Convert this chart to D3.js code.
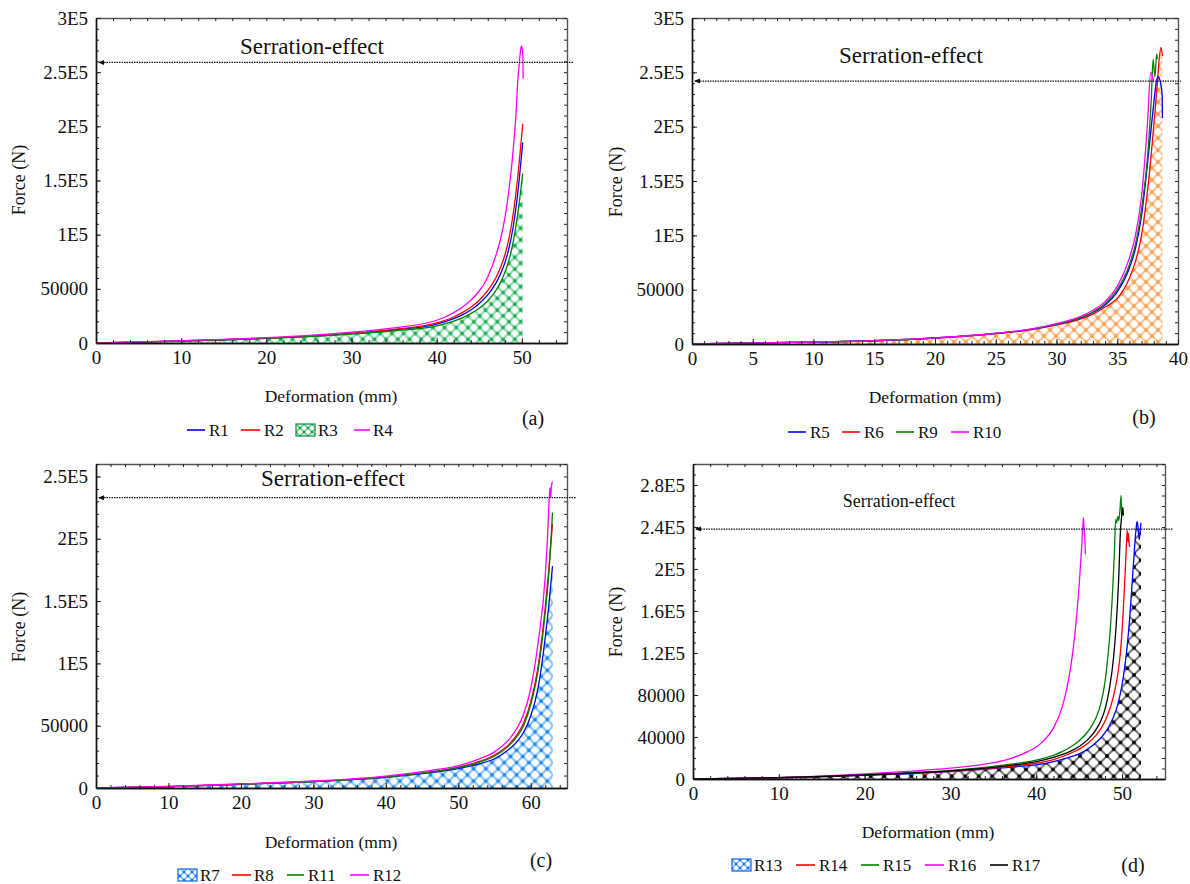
<!DOCTYPE html>
<html><head><meta charset="utf-8">
<script src="https://cdn.jsdelivr.net/npm/d3@7"></script>
<style>
body{margin:0;background:#fff}
svg text{font-family:"Liberation Serif","Tinos","Times New Roman",serif;}
</style>
</head><body>
<svg id="fig" width="1190" height="884"></svg>
<script>
// ================= DATA =================
// Tick values / labels
const xTicksA = [0,10,20,30,40,50];
const xTicksB = [0,5,10,15,20,25,30,35,40];
const xTicksC = [0,10,20,30,40,50,60];
const xTicksD = [0,10,20,30,40,50];
const yTicksAB = [0,50000,100000,150000,200000,250000,300000];
const yLabelsAB = ["0","50000","1E5","1.5E5","2E5","2.5E5","3E5"];
const yTicksC = [0,50000,100000,150000,200000,250000];
const yLabelsC = ["0","50000","1E5","1.5E5","2E5","2.5E5"];
const yTicksD = [0,40000,80000,120000,160000,200000,240000,280000];
const yLabelsD = ["0","40000","80000","1.2E5","1.6E5","2E5","2.4E5","2.8E5"];

// Serration-effect reference levels (N)
const serrationLevels = {a:259000, b:242000, c:233000, d:238000};

// Panel (a): deformation (mm) and force (N)
const defA = [0,5,10,15,20,25,30,35,40,41,42,43,44,45,46,47,47.5,48,48.5,49,49.5,50.1];
const forceR1 = [0,900,1900,3000,4400,6200,8700,12000,17500,19800,22500,26000,30500,36500,44500,56000,64000,74000,88000,108000,137000,185000];
const forceR2 = [0,900,2000,3100,4500,6400,9000,12500,18500,21000,24000,28000,33000,39500,48500,61000,70000,81000,97000,120000,152000,202000];
const forceR3 = [0,850,1800,2900,4200,6000,8300,11300,15800,17800,20200,23200,27200,32000,39000,49000,56000,65000,77000,94000,118000,156600];
const defR4 = [0,5,10,15,20,25,30,35,40,41,42,43,44,45,46,47,47.5,48,48.5,49,49.3,49.55,49.7,49.85,49.95,50.1,50.15];
const forceR4 = [0,950,2100,3300,4900,7000,10000,14000,21000,24000,28000,33000,39500,48000,61000,82000,96000,115000,142000,180000,210000,245000,258000,270000,274000,268000,244000];

// Panel (b)
const defB = [0,5,10,15,20,25,28,30,32,33,34,35,36,36.5,37,37.5];
const defR5 = defB.concat([38.0,38.2,38.35,38.6,38.7,38.72]);
const forceR5 = [0,900,1800,3000,5500,9700,13600,18000,24000,29000,36000,48000,70000,88000,118000,167000, 221000,240000,246000,238000,228000,208000];
const defR6 = defB.concat([38.0,38.3,38.45,38.6,38.72]);
const forceR6 = [0,900,1800,3000,5400,9500,13300,17500,23000,27500,34000,42000,60600,76000,100000,142000, 200000,240000,262000,273000,265000];
const defR9 = defB.concat([37.8,37.95,38.1,38.25,38.3]);
const forceR9 = [0,900,1800,3000,5500,9700,13700,18200,24500,29500,37000,50000,73000,92000,124000,173000, 225000,262000,246000,267000,262000];
const defR10 = defB.concat([37.75,37.85,38.0]);
const forceR10 = [0,950,1850,3100,5600,9900,14000,18800,25500,31000,39000,53000,79000,100000,136000,205000, 250000,248000,241000];

// Panel (c)
const defC = [0,10,20,30,40,45,50,53,55,57,58,59,60,61,62,62.5,63];
const forceR7  = [0,1100,3000,5200,8600,11500,15500,19500,23500,31000,36500,44500,58000,80000,121000,147000,178000];
const forceR8  = [0,1100,3100,5300,9000,12200,16800,21500,26500,35000,42000,52000,69000,97000,145000,176000,212000];
const forceR11 = [0,1100,3000,5200,8800,12000,16300,21000,25500,34000,40500,50000,67000,94000,141000,173000,221000];
const defR12 = [0,10,20,30,40,45,50,53,55,57,58,59,60,61,62,62.3,62.55,62.65,62.75,62.85,63.0];
const forceR12 = [0,1200,3300,5600,9600,13200,18000,23500,29000,39000,47000,59000,80000,116000,170000,200000,232000,241000,233000,242000,246000];

// Panel (d)
const defR13 = [0,5,10,15,20,25,30,35,38,40,42,44,45,46,47,48,48.5,49,49.5,50,50.3,50.6,50.9,51.2,51.45,51.65,51.75,51.85,52.0,52.1,52.2];
const forceR13 = [0,570,1200,2200,3500,5000,7000,9800,12000,13400,16500,21000,24000,28500,35000,44000,50500,59000,71000,90000,106000,127000,155000,190000,220000,240000,245000,240000,228000,236000,244000];
const defR14 = [0,5,10,15,20,25,30,35,38,40,42,44,45,46,47,47.5,48,48.5,49,49.5,49.8,50.1,50.35,50.5,50.6,50.68,50.75,50.82,50.9];
const forceR14 = [0,580,1200,2300,3600,5300,7300,10300,13000,15000,18500,24500,28500,34000,42000,47500,55000,65000,79000,100000,120000,155000,195000,222000,237000,226000,234000,224000,221000];
const defR15 = [0,5,10,15,20,25,30,35,38,40,42,43,44,45,46,46.5,47,47.5,48,48.3,48.6,48.9,49.1,49.25,49.35,49.5,49.6,49.75,49.88,49.95];
const forceR15 = [0,600,1300,2500,4100,6000,8300,12000,15200,18000,22500,26000,30500,36500,45000,51000,59000,71000,92000,113000,140000,180000,215000,247000,244000,250000,246000,256000,270000,252000];
const defR16 = [0,5,10,15,20,25,30,33,35,37,38,39,40,41,42,43,43.5,44,44.5,45,45.3,45.5,45.6,45.65,45.72];
const forceR16 = [0,600,1400,2800,4800,7200,10300,13000,15500,19500,22500,26000,30500,37500,48500,68000,84000,106000,138000,185000,222000,249000,234000,231000,214000];
const defR17 = [0,5,10,15,20,25,30,35,38,40,42,44,45,46,47,47.5,48,48.5,49,49.3,49.6,49.8,49.95,50.1,50.15];
const forceR17 = [0,600,1250,2400,3800,5600,7800,11000,14000,16500,20500,26500,31000,37500,47500,55000,66000,85000,115000,145000,190000,235000,250000,259000,251000];

// ================= STYLE / LAYOUT =================
const FONT = '"Liberation Serif","Tinos","Times New Roman",serif';
const C = {blue:'#0000ff', red:'#ff0000', green:'#008000', magenta:'#ff00ff', black:'#000000'};
const zip = (xs, ys) => xs.map((x,i)=>[x, ys[i]]);

const svg = d3.select('#fig');
const defs = svg.append('defs');
function hatch(id, size, lineCol, dotCol, lw, r) {
  const p = defs.append('pattern').attr('id', id).attr('patternUnits','userSpaceOnUse')
    .attr('width', size).attr('height', size);
  p.append('path').attr('d', `M0,0L${size},${size}M${size},0L0,${size}`)
    .attr('stroke', lineCol).attr('stroke-width', lw).attr('fill','none');
  [[0,0],[size,0],[0,size],[size,size],[size/2,size/2]].forEach(([cx,cy]) =>
    p.append('circle').attr('cx',cx).attr('cy',cy).attr('r',r).attr('fill',dotCol));
}
hatch('hGreen', 11.7, '#8fdcae', '#1faa55', 2.4, 1.9);
hatch('hOrange', 12, '#fcc9a0', '#f7a052', 2.4, 1.9);
hatch('hBlue', 12.3, '#8cc6f8', '#2288f0', 2.4, 1.9);
hatch('hBlack', 13.5, '#707070', '#000000', 2.0, 2.0);
hatch('hGreenS', 8, '#6fcf93', '#1a9a48', 1.6, 1.3);
hatch('hBlueS', 8, '#7ab8f5', '#1f6fe0', 1.6, 1.3);

const panels = [
  { box:{left:96,right:567,top:18,bottom:343}, xDomain:[0,55.3], yDomain:[0,300000],
    xTicks:xTicksA, xMinor:2, yTicks:yTicksAB, yLabels:yLabelsAB, yMinor:10000,
    series:[{d:zip(defA,forceR1),c:C.blue},{d:zip(defA,forceR2),c:C.red},{d:zip(defA,forceR3),c:C.green},{d:zip(defR4,forceR4),c:C.magenta}],
    fill:{d:zip(defA,forceR3), p:'hGreen'}, level:serrationLevels.a, arrowEnd:573,
    serr:{x:312,y:46,s:23}, xlab:{x:331,y:396}, ylab:{x:19,y:180}, tag:{t:'(a)',x:533,y:418},
    legend:{y:430, items:[
      {type:'line',c:C.blue,x1:187,x2:205,tx:209,t:'R1'},
      {type:'line',c:C.red,x1:241,x2:260,tx:264,t:'R2'},
      {type:'box',c:'#1a9a48',p:'hGreenS',x1:296,x2:315,tx:318,t:'R3'},
      {type:'line',c:C.magenta,x1:354,x2:370,tx:373,t:'R4'}]} },
  { box:{left:692,right:1178,top:18,bottom:344}, xDomain:[0,40], yDomain:[0,300000],
    xTicks:xTicksB, xMinor:1, yTicks:yTicksAB, yLabels:yLabelsAB, yMinor:10000,
    series:[{d:zip(defR6,forceR6),c:C.red},{d:zip(defR5,forceR5),c:C.blue},{d:zip(defR9,forceR9),c:C.green},{d:zip(defR10,forceR10),c:C.magenta}],
    fill:{d:zip(defR6,forceR6), p:'hOrange'}, level:serrationLevels.b, arrowEnd:1181,
    serr:{x:911,y:55,s:23}, xlab:{x:935,y:397}, ylab:{x:616,y:182}, tag:{t:'(b)',x:1144,y:417},
    legend:{y:432, items:[
      {type:'line',c:C.blue,x1:788,x2:806,tx:810,t:'R5'},
      {type:'line',c:C.red,x1:842,x2:860,tx:864,t:'R6'},
      {type:'line',c:C.green,x1:896,x2:914,tx:918,t:'R9'},
      {type:'line',c:C.magenta,x1:951,x2:969,tx:973,t:'R10'}]} },
  { box:{left:96,right:567,top:464,bottom:788}, xDomain:[0,65], yDomain:[0,260000],
    xTicks:xTicksC, xMinor:2, yTicks:yTicksC, yLabels:yLabelsC, yMinor:10000,
    series:[{d:zip(defC,forceR7),c:C.blue},{d:zip(defC,forceR8),c:C.red},{d:zip(defC,forceR11),c:C.green},{d:zip(defR12,forceR12),c:C.magenta}],
    fill:{d:zip(defC,forceR7), p:'hBlue'}, level:serrationLevels.c, arrowEnd:576,
    serr:{x:333,y:478,s:23}, xlab:{x:331,y:842}, ylab:{x:19,y:627}, tag:{t:'(c)',x:541,y:860},
    legend:{y:875, items:[
      {type:'box',c:'#1f6fe0',p:'hBlueS',x1:178,x2:197,tx:200,t:'R7'},
      {type:'line',c:C.red,x1:232,x2:251,tx:254,t:'R8'},
      {type:'line',c:C.green,x1:287,x2:304,tx:308,t:'R11'},
      {type:'line',c:C.magenta,x1:350,x2:369,tx:373,t:'R12'}]} },
  { box:{left:693,right:1165,top:464,bottom:779}, xDomain:[0,55], yDomain:[0,300000],
    xTicks:xTicksD, xMinor:2, yTicks:yTicksD, yLabels:yLabelsD, yMinor:10000,
    series:[{d:zip(defR13,forceR13),c:C.blue},{d:zip(defR14,forceR14),c:C.red},{d:zip(defR15,forceR15),c:C.green},{d:zip(defR16,forceR16),c:C.magenta},{d:zip(defR17,forceR17),c:C.black}],
    fill:{d:zip(defR13,forceR13), p:'hBlack'}, level:serrationLevels.d, arrowEnd:1173,
    serr:{x:899,y:501,s:18}, xlab:{x:928,y:832}, ylab:{x:616,y:622}, tag:{t:'(d)',x:1133,y:865},
    legend:{y:865, items:[
      {type:'box',c:'#1f6fe0',p:'hBlueS',x1:732,x2:751,tx:754,t:'R13'},
      {type:'line',c:C.red,x1:796,x2:815,tx:819,t:'R14'},
      {type:'line',c:C.green,x1:861,x2:879,tx:883,t:'R15'},
      {type:'line',c:C.magenta,x1:925,x2:944,tx:948,t:'R16'},
      {type:'line',c:C.black,x1:990,x2:1008,tx:1012,t:'R17'}]} }
];

function styleAxis(g, col, size) {
  g.attr('font-family', FONT).attr('font-size', size);
  g.selectAll('.tick line').attr('stroke', '#222').attr('stroke-width', 1);
  g.selectAll('.tick text').attr('fill', '#111').style('font-family', FONT);
  g.select('.domain').attr('stroke', col).attr('stroke-width', 1.4);
}
function txt(g, x, y, s, t, anchor) {
  return g.append('text').attr('x', x).attr('y', y).attr('text-anchor', anchor || 'middle')
    .attr('dominant-baseline','central').style('font-family', FONT).attr('font-size', s)
    .attr('fill','#111').text(t);
}

panels.forEach((P, pi) => {
  const b = P.box;
  const x = d3.scaleLinear().domain(P.xDomain).range([b.left, b.right]);
  const y = d3.scaleLinear().domain(P.yDomain).range([b.bottom, b.top]);
  const g = svg.append('g');
  const clipId = 'clip' + pi;
  defs.append('clipPath').attr('id', clipId).append('rect')
    .attr('x', b.left).attr('y', b.top - 2).attr('width', b.right - b.left).attr('height', b.bottom - b.top + 2);

  const plot = g.append('g').attr('clip-path', `url(#${clipId})`);
  const area = d3.area().x(d => x(d[0])).y0(y(0)).y1(d => y(d[1])).curve(d3.curveMonotoneX);
  plot.append('path').datum(P.fill.d).attr('d', area).attr('fill', `url(#${P.fill.p})`);
  const line = d3.line().x(d => x(d[0])).y(d => y(d[1])).curve(d3.curveMonotoneX);
  P.series.forEach(s => plot.append('path').datum(s.d).attr('d', line)
    .attr('fill','none').attr('stroke', s.c).attr('stroke-width', 1.3));

  // minor ticks on all four sides (inward)
  const xMinorVals = d3.range(P.xDomain[0], P.xDomain[1] + 1e-9, P.xMinor);
  const yMinorVals = d3.range(P.yDomain[0], P.yDomain[1] + 1e-9, P.yMinor);
  styleAxis(g.append('g').attr('transform', `translate(0,${b.top})`)
    .call(d3.axisTop(x).tickValues(xMinorVals).tickSize(-3).tickSizeOuter(0).tickFormat('')), '#555', 10);
  styleAxis(g.append('g').attr('transform', `translate(${b.right},0)`)
    .call(d3.axisRight(y).tickValues(yMinorVals).tickSize(-3).tickSizeOuter(0).tickFormat('')), '#555', 10);
  styleAxis(g.append('g').attr('transform', `translate(0,${b.bottom})`)
    .call(d3.axisBottom(x).tickValues(xMinorVals).tickSize(-3).tickSizeOuter(0).tickFormat('')), '#111', 10);
  styleAxis(g.append('g').attr('transform', `translate(${b.left},0)`)
    .call(d3.axisLeft(y).tickValues(yMinorVals).tickSize(-3).tickSizeOuter(0).tickFormat('')), '#111', 10);
  // major ticks with labels
  styleAxis(g.append('g').attr('transform', `translate(0,${b.bottom})`)
    .call(d3.axisBottom(x).tickValues(P.xTicks).tickSize(-5).tickSizeOuter(0).tickPadding(8).tickFormat(d3.format('d'))), '#111', 19);
  styleAxis(g.append('g').attr('transform', `translate(${b.left},0)`)
    .call(d3.axisLeft(y).tickValues(P.yTicks).tickSize(-5).tickSizeOuter(0).tickPadding(8)
      .tickFormat((d,i) => P.yLabels[i])), '#111', 19);

  // serration level arrow line
  const yl = y(P.level);
  g.append('line').attr('x1', b.left + 3).attr('x2', P.arrowEnd).attr('y1', yl).attr('y2', yl)
    .attr('stroke', '#111').attr('stroke-width', 1.2).attr('stroke-dasharray', '1.5,1');
  g.append('path').attr('d', `M${b.left+2},${yl}L${b.left+8},${yl-2.5}L${b.left+8},${yl+2.5}Z`).attr('fill', '#111');

  txt(g, P.serr.x, P.serr.y, P.serr.s, 'Serration-effect');
  txt(g, P.xlab.x, P.xlab.y, 17.5, 'Deformation (mm)');
  txt(g, 0, 0, 18, 'Force (N)').attr('transform', `translate(${P.ylab.x},${P.ylab.y}) rotate(-90)`);
  txt(g, P.tag.x, P.tag.y, 20, P.tag.t);

  // legend
  const ly = P.legend.y;
  P.legend.items.forEach(it => {
    if (it.type === 'line') {
      g.append('line').attr('x1', it.x1).attr('x2', it.x2).attr('y1', ly).attr('y2', ly)
        .attr('stroke', it.c).attr('stroke-width', 1.6);
    } else {
      g.append('rect').attr('x', it.x1).attr('y', ly - 6).attr('width', it.x2 - it.x1).attr('height', 12)
        .attr('fill', `url(#${it.p})`).attr('stroke', it.c).attr('stroke-width', 1.3);
    }
    txt(g, it.tx, ly, 17, it.t, 'start');
  });
});
</script>
</body></html>
